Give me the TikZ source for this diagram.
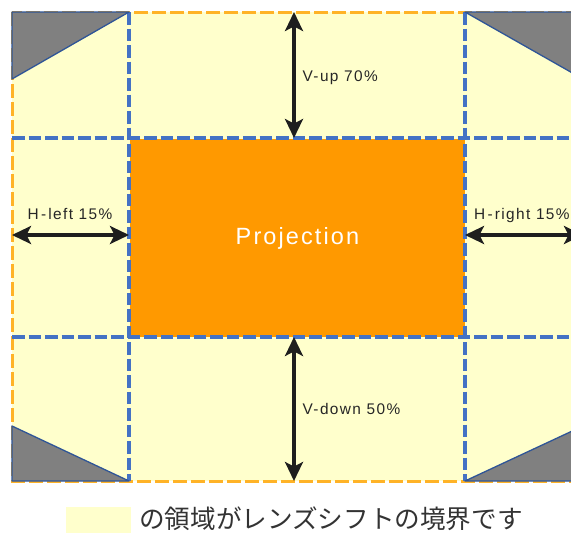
\documentclass[tikz,border=0pt]{standalone}
\usepackage{fontspec}
\setmainfont{Liberation Sans}[LetterSpace=9]
\newfontfamily\cjk{Noto Sans CJK JP}
\usetikzlibrary{arrows.meta}
\definecolor{lyel}{HTML}{FFFFCC}
\definecolor{projor}{HTML}{FF9900}
\definecolor{bordor}{HTML}{FFB327}
\definecolor{dashblue}{HTML}{4472C4}
\definecolor{triline}{HTML}{2F5597}
\definecolor{trigrey}{HTML}{808080}
\definecolor{arrblk}{HTML}{1E1E1E}
\tikzset{
  borderline/.style={draw=bordor, line width=3pt, dash pattern=on 14pt off 4pt},
  blueline/.style={draw=dashblue, line width=3.3pt, dash pattern=on 12.5pt off 4pt},
  cornertri/.style={fill=trigrey, draw=triline, line width=1.3pt, line join=round},
  projbox/.style={fill=projor, inner sep=0pt, minimum width=335pt, minimum height=198pt,
    text=white, font=\fontsize{23.5}{26}\selectfont},
  shiftarrow/.style={draw=arrblk, line width=3.2pt,
    {Stealth[length=19pt,width=18pt,inset=4.5pt]}-{Stealth[length=19pt,width=18pt,inset=4.5pt]}},
  lbl/.style={font=\fontsize{15.4}{17}\selectfont, text=black!85, inner sep=0pt},
  legbox/.style={fill=lyel, inner sep=0pt, minimum width=65pt, minimum height=28pt},
  legtext/.style={font=\cjk\fontsize{25.6}{28}\selectfont, text=black!80, inner sep=0pt}
}
\begin{document}
\begin{tikzpicture}[x=1pt,y=-1pt]
\clip (0,0) rectangle (571,533);
\fill[white] (0,0) rectangle (571,533);
% lens-shift area
\fill[lyel] (12,12) rectangle (583,481);
\draw[borderline] (12,12) rectangle (583,481);
% projection
\node[projbox] (proj) at (297.5,238) {Projection};
% grid lines
\draw[blueline] (12,138) -- (583,138);
\draw[blueline] (12,337) -- (583,337);
\draw[blueline] (129,12) -- (129,481);
\draw[blueline] (465,12) -- (465,481);
% corner triangles
\draw[cornertri] (12,12) -- (129,12) -- (12,79) -- cycle;
\draw[cornertri] (465,12) -- (583,12) -- (583,79) -- cycle;
\draw[cornertri] (12,426) -- (129,481) -- (12,481) -- cycle;
\draw[cornertri] (465,481) -- (583,426) -- (583,481) -- cycle;
% arrow end points
\coordinate (upT) at (294,12);
\coordinate (upB) at (294,138);
\coordinate (dnT) at (294,337);
\coordinate (dnB) at (294,481);
\coordinate (lfL) at (12,235);
\coordinate (lfR) at (129,235);
\coordinate (rtL) at (465,235);
\coordinate (rtR) at (583,235);
\draw[shiftarrow] (upT) -- (upB);
\draw[shiftarrow] (dnT) -- (dnB);
\draw[shiftarrow] (lfL) -- (lfR);
\draw[shiftarrow] (rtL) -- (rtR);
% labels
\node[lbl, anchor=base west] (lup) at (302.5,81.7) {V-up 70\%};
\node[lbl, anchor=base west] (ldn) at (302.5,414.3) {V-down 50\%};
\node[lbl, anchor=base] (llf) at (70,219.3) {H{\kern2.2pt}-{\kern2.2pt}left 15\%};
\node[lbl, anchor=base west] (lrt) at (474,219.3) {H{\kern2.2pt}-{\kern2.2pt}right 15\%};
% legend
\node[legbox, anchor=north west] (lgb) at (66,507) {};
\node[legtext, anchor=base west] (lgt) at (139,528) {の領域がレンズシフトの境界です};
\end{tikzpicture}
\end{document}
